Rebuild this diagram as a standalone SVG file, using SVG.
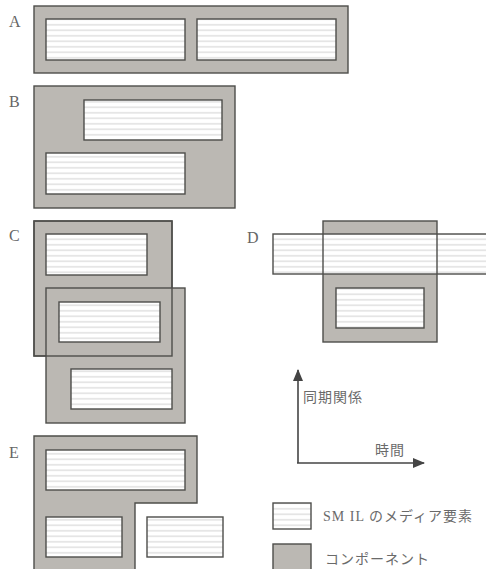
<svg xmlns="http://www.w3.org/2000/svg" width="486" height="569" viewBox="0 0 486 569">
<defs>
<pattern id="stripes" patternUnits="userSpaceOnUse" width="10" height="5.5">
<rect width="10" height="5.5" fill="#ffffff"/>
<rect y="2" width="10" height="1.6" fill="#e2e2e2"/>
</pattern>
<marker id="arrow" viewBox="0 0 12 10" refX="11" refY="5" markerWidth="12" markerHeight="10" markerUnits="userSpaceOnUse" orient="auto">
<path d="M0,0 L12,5 L0,10 Z" fill="#444"/>
</marker>
<style>
.comp{fill:#bbb8b3;stroke:#4d4d4a;stroke-width:1.4}
.edge{fill:none;stroke:#4d4d4a;stroke-width:1.4}
.media{fill:url(#stripes);stroke:#4d4d4a;stroke-width:1.4}
.lbl{font-family:"Liberation Serif",serif;font-size:16px;fill:#666}
.jp{font-family:"Liberation Serif","Noto Sans CJK JP",serif;font-size:14px;fill:#6a6a6a;letter-spacing:1px}
.axis{stroke:#444;stroke-width:1.6;fill:none}
</style>
</defs>

<g id="A">
<text class="lbl" x="9" y="27">A</text>
<rect class="comp" x="34" y="6" width="314" height="67"/>
<rect class="media" x="46" y="19" width="139" height="41"/>
<rect class="media" x="197" y="19" width="139" height="41"/>
</g>

<g id="B">
<text class="lbl" x="9" y="107">B</text>
<rect class="comp" x="34" y="86" width="201" height="122"/>
<rect class="media" x="84" y="100" width="138" height="40"/>
<rect class="media" x="46" y="153" width="139" height="41"/>
</g>

<g id="C">
<text class="lbl" x="9" y="241">C</text>
<rect class="comp" x="34" y="221" width="138" height="135"/>
<rect class="comp" x="46" y="288" width="139" height="135"/>
<rect class="edge" x="34" y="221" width="138" height="135"/>
<rect class="media" x="46" y="234" width="101" height="41"/>
<rect class="media" x="59" y="302" width="101" height="40"/>
<rect class="media" x="71" y="369" width="101" height="40"/>
</g>

<g id="D">
<text class="lbl" x="247" y="243">D</text>
<rect class="comp" x="323" y="221" width="114" height="121"/>
<rect class="media" x="273" y="234" width="220" height="40"/>
<line class="edge" x1="323" y1="234" x2="323" y2="274"/>
<line class="edge" x1="437" y1="234" x2="437" y2="274"/>
<rect class="media" x="336" y="288" width="88" height="40"/>
</g>

<g id="E">
<text class="lbl" x="9" y="458">E</text>
<path class="comp" d="M34,436 H197 V503 H135 V580 H34 Z"/>
<rect class="media" x="46" y="450" width="139" height="40"/>
<rect class="media" x="46" y="517" width="76" height="40"/>
<rect class="media" x="147" y="517" width="76" height="40"/>
</g>

<g id="connectors">
<line class="axis" x1="298" y1="463" x2="298" y2="370" marker-end="url(#arrow)"/>
<line class="axis" x1="297" y1="463" x2="424" y2="463" marker-end="url(#arrow)"/>
</g>

<g id="axis-labels">
<text class="jp" x="303" y="402">同期関係</text>
<text class="jp" x="375" y="455">時間</text>
</g>

<g id="legend">
<rect class="media" x="273" y="503" width="38" height="26"/>
<text class="jp" x="323" y="521">SM IL のメディア要素</text>
<rect class="comp" x="273" y="544" width="38" height="30"/>
<text class="jp" x="325" y="564">コンポーネント</text>
</g>
</svg>
